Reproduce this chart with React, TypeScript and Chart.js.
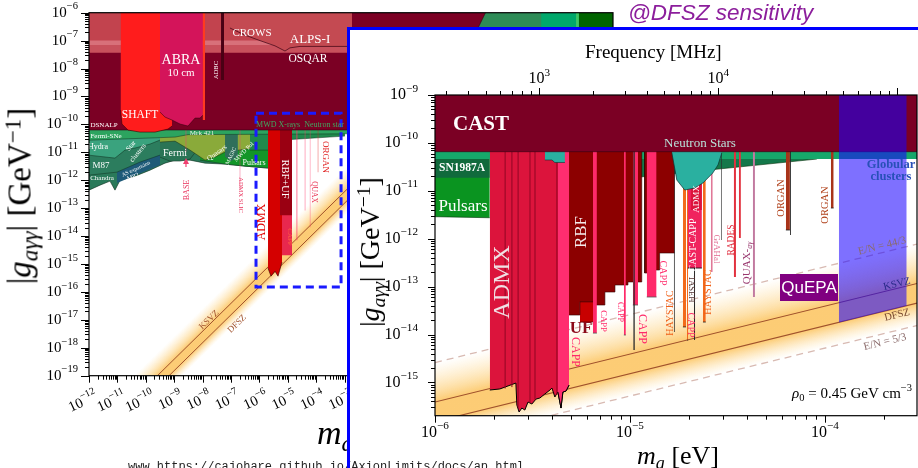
import React, { useEffect, useRef } from "react";
import { Chart, registerables } from "chart.js";
Chart.register(...registerables);

type P = [number, number];
type Bar = [number, number, number];
type Run = { t: string; sub?: boolean; sup?: boolean; it?: boolean };
type Lbl = { t: string | Run[]; x: number; y: number; s: number; c: string; r?: number; b?: boolean; it?: boolean; f?: string; a?: CanvasTextAlign };

const SERIF = '"Liberation Serif", "DejaVu Serif", serif';
const SANS = '"Liberation Sans", "DejaVu Sans", sans-serif';
const MONO = '"Liberation Mono", "DejaVu Sans Mono", monospace';

// ---------------- axes / ticks ----------------
const LEFT_X_RANGE: P = [1e-12, 2.82e6];
const LEFT_Y_RANGE: P = [1e-19, 1e-6];
const LEFT_X_DECADES = [-12, -11, -10, -9, -8, -7, -6, -5, -4, -3];
const LEFT_Y_DECADES = [-19, -18, -17, -16, -15, -14, -13, -12, -11, -10, -9, -8, -7, -6];
const INSET_X_RANGE: P = [1e-6, 2.97e-4];
const INSET_Y_RANGE: P = [2.02e-16, 1e-9];
const INSET_FREQ_RANGE: P = [261, 128800];
const INSET_X_DECADES = [-6, -5, -4];
const INSET_Y_DECADES = [-15, -14, -13, -12, -11, -10, -9];
const INSET_FREQ_DECADES = [3, 4];

// ---------------- left panel data (m [eV], g [GeV^-1]) ----------------
const LEFT_KSVZ: P[] = [[1e-12, 3.9e-22], [1e-2, 3.9e-12]];
const LEFT_DFSZ: P[] = [[1e-12, 1.52e-22], [1e-2, 1.52e-12]];
const LEFT_BAND_LO: P[] = [[1e-12, 5.2e-23], [1e-2, 5.2e-13]];
const LEFT_BAND_HI: P[] = [[1e-12, 2.6e-21], [1e-2, 2.6e-11]];
const LEFT_ASTRO_BASE: P[] = [[1e-12, 4.42e-13], [2.44e-12, 6.67e-13], [5.48e-12, 9.3e-13], [8.22e-12, 4.42e-13], [1.24e-11, 1.0e-12], [4.17e-11, 1.4e-12], [1.41e-10, 2.3e-12], [4.74e-10, 4.1e-12], [1.07e-9, 5.25e-12], [3.6e-9, 5.25e-12], [1.22e-8, 4.1e-12], [6.15e-8, 3.78e-12], [3.11e-7, 3.2e-12], [2.01e-6, 2.72e-12]];
const LEFT_AS_EXP: P[] = [[9.7e-12, 7.9e-13], [3.16e-10, 3.5e-12]];
const LEFT_M87: P[] = [[1e-12, 1.52e-12], [9.65e-12, 1.95e-12], [6.25e-11, 4.46e-12], [3.16e-10, 7.94e-12]];
const LEFT_STAR_CLUSTERS: P[] = [[1e-12, 7.9e-12], [8.22e-12, 6.2e-12], [1.85e-11, 1.2e-11], [4.17e-11, 1.42e-11], [1.41e-10, 1.97e-11], [3.16e-10, 2.74e-11]];
const LEFT_FERMI: P[] = [[3.16e-10, 6.73e-12], [7.1e-10, 4.84e-12], [1.6e-9, 4.84e-12], [3.6e-9, 5.7e-12], [6.35e-9, 1.2e-11]];
const LEFT_PULSARS: P[] = [[8.1e-9, 5.25e-12], [6.15e-8, 3.78e-12], [3.11e-7, 3.2e-12], [2.01e-6, 2.72e-12]];
const LEFT_MRK421: P[] = [[3.16e-10, 2.32e-11], [1.07e-9, 2.52e-11], [3.6e-9, 1.2e-11], [1.22e-8, 5.25e-12], [2.74e-8, 6.73e-12], [6.15e-8, 1.02e-11], [3.11e-7, 1.3e-11], [2.01e-6, 1.53e-11]];
const LEFT_MAGIC: P[] = [[6.15e-8, 7e-12], [1.0e-7, 4.8e-12], [1.75e-7, 7e-12]];
const LEFT_MWD_X: P[] = [[4.67e-7, 1.2e-11], [2.36e-6, 1.2e-11], [5.31e-6, 2.72e-11], [1.03e-3, 3.81e-11]];
const LEFT_FERMI_SNE: P[] = [[1e-12, 2.72e-11], [1.07e-9, 3.51e-11], [3.06e-9, 4.3e-11], [1.5e-3, 4.6e-11]];
const LEFT_CAPP: P[] = [[5.31e-6, 2.07e-15], [1.41e-5, 2.07e-15]];
const LEFT_ADMX: P[] = [[2.01e-6, 7.07e-16], [2.56e-6, 3.66e-16], [3.54e-6, 5.52e-16], [4.52e-6, 3.66e-16], [6.25e-6, 1.16e-15]];
const LEFT_RBF_UF: P[] = [[5.31e-6, 5.6e-14], [1.41e-5, 5.6e-14]];
const LEFT_HALO_LINES: Bar[] = [[2.0e-5, 2.2e-5, 7.1e-15], [3.9e-5, 4.2e-5, 8.3e-14], [5.9e-5, 6.3e-5, 2.08e-14]];
const LEFT_ORGAN: Bar[] = [[1.12e-4, 1.2e-4, 1.92e-12]];
const LEFT_ADMX_SLIC: Bar[] = [[2.0e-7, 2.15e-7, 4.42e-13]];
const LEFT_BASE: Bar[] = [[2.5e-9, 2.7e-9, 1.02e-11]];
const LEFT_BASE_ARROW: P[] = [[2.6e-9, 6.2e-12], [2.6e-9, 2.95e-12]];
const LEFT_TOP_GREEN1: P[] = [[31.6, 1e-9], [2.82e6, 1e-9]];
const LEFT_TOP_GREEN2: P[] = [[8.3e3, 1e-9], [1.41e5, 1e-9]];
const LEFT_TOP_GREEN3: P[] = [[1.41e5, 1e-9], [1.78e5, 1e-9]];
const LEFT_TOP_GREEN4: P[] = [[1.78e5, 1e-9], [2.82e6, 1e-9]];
const LEFT_CAST: P[] = [[1e-12, 6.3e-11], [20, 6.3e-11], [47, 2.5e-7], [102, 1.26e-6]];
const LEFT_LSW_C: P[] = [[1e-12, 3.68e-8], [1.82e-3, 3.68e-8]];
const LEFT_LSW_B: P[] = [[1e-12, 6.95e-8], [1.82e-3, 6.95e-8]];
const LEFT_LSW_A: P[] = [[1e-12, 1e-7], [1.82e-3, 1e-7]];
const LEFT_CROWS_ALPS: P[] = [[9.2e-8, 2.83e-7], [3.11e-7, 1.58e-7], [1.05e-6, 1.0e-7], [3.54e-6, 6.5e-8], [7.96e-6, 4.24e-8], [1.19e-5, 5.5e-8], [2.69e-5, 6.2e-8], [1.82e-3, 6.2e-8]];
const LEFT_SHAFT: P[] = [[1.29e-11, 3.26e-10], [1.45e-11, 1.03e-10], [2.36e-11, 6.25e-11], [6.25e-11, 5.3e-11], [2.11e-10, 5.3e-11], [6.05e-10, 6.8e-11], [8.37e-10, 8.7e-11]];
const LEFT_ABRA: P[] = [[3.16e-10, 2.76e-10], [4.74e-10, 1.83e-10], [8.37e-10, 1.43e-10], [1.6e-9, 1.03e-10], [3.06e-9, 8.7e-11], [5.4e-9, 1.68e-10], [8.1e-9, 1.68e-10], [1.03e-8, 2.15e-10]];
const LEFT_ABRA_EDGE: P[] = [[1.0e-8, 1.43e-10], [1.22e-8, 1.43e-10]];
const LEFT_ADBC: P[] = [[4.45e-8, 3.87e-9], [5.68e-8, 3.87e-9]];
const LEFT_ZOOM_BOX: P[] = [[7.6e-7, 2.5e-10], [7.5e-4, 2.5e-10], [7.5e-4, 1.5e-16], [7.6e-7, 1.5e-16], [7.6e-7, 2.5e-10]];

// ---------------- inset data ----------------
const INSET_KSVZ: P[] = [[1e-6, 3.9e-16], [3e-4, 1.17e-13]];
const INSET_DFSZ: P[] = [[1e-6, 1.52e-16], [3e-4, 4.56e-14]];
const INSET_EN_44_3: P[] = [[1e-6, 2.6e-15], [3e-4, 7.8e-13]];
const INSET_EN_5_3: P[] = [[1e-6, 5.2e-17], [3e-4, 1.56e-14]];
const INSET_PULSARS: P[] = [[1e-6, 2.88e-12], [1.91e-6, 2.74e-12]];
const INSET_SN1987A: P[] = [[1e-6, 1.88e-11], [1.91e-6, 1.88e-11]];
const INSET_NS_DARK: P[] = [[1.1e-5, 1.94e-11], [1.125e-5, 1.94e-11], [9.1e-5, 4.6e-11]];
const INSET_GREEN_STRIP: P[] = [[1e-6, 4.61e-11], [3e-4, 4.61e-11]];
const INSET_UF: P[] = [[5.54e-6, 1.82e-14], [6.61e-6, 1.82e-14]];
const INSET_ADMX: P[] = [[1.91e-6, 6.94e-16], [2.15e-6, 7.3e-16], [2.6e-6, 9.7e-16], [2.63e-6, 3.37e-16], [2.7e-6, 2.41e-16], [2.79e-6, 2.92e-16], [2.89e-6, 2.65e-16], [3.0e-6, 3.9e-16], [3.14e-6, 3.54e-16], [3.3e-6, 4.5e-16], [3.45e-6, 4.72e-16], [3.66e-6, 5.73e-16], [3.89e-6, 6.94e-16], [3.98e-6, 7.64e-16], [4.12e-6, 4.96e-16], [4.27e-6, 6.31e-16], [4.43e-6, 2.92e-16], [4.53e-6, 6.31e-16], [4.7e-6, 6.61e-16], [4.87e-6, 8.8e-16]];
const INSET_ADMX_SIDECAR: P[] = [[4.27e-6, 6.31e-16], [4.43e-6, 2.92e-16], [4.53e-6, 6.31e-16], [4.7e-6, 6.61e-16], [4.87e-6, 8.8e-16]];
const INSET_ADMX_STRIPES: P[] = [[2.29e-6, 7.5e-16], [2.48e-6, 8e-16], [2.67e-6, 3e-16], [3.07e-6, 3.8e-16], [3.26e-6, 4.4e-16], [4.22e-6, 5.5e-16]];
const INSET_RBF: P[] = [[4.87e-6, 2.55e-14], [5.54e-6, 2.55e-14], [5.54e-6, 4.8e-14], [6.61e-6, 4.8e-14], [6.61e-6, 4.13e-14], [7.44e-6, 4.13e-14], [7.44e-6, 7.71e-14], [8.38e-6, 7.71e-14], [8.38e-6, 1.08e-13], [9.77e-6, 1.08e-13], [9.77e-6, 1.25e-13], [1.15e-5, 1.25e-13], [1.15e-5, 6.6e-11], [1.19e-5, 6.6e-11], [1.19e-5, 1.92e-13], [1.27e-5, 1.92e-13], [1.27e-5, 2.22e-13], [1.42e-5, 2.22e-13], [1.42e-5, 5.03e-13], [1.7e-5, 5.03e-13]];
const INSET_CAPP: Bar[] = [[6.46e-6, 6.77e-6, 1.07e-14], [9.31e-6, 9.53e-6, 9.77e-15], [1.035e-5, 1.1e-5, 4.13e-14], [1.22e-5, 1.37e-5, 6.07e-14]];
const INSET_HAYSTAC: Bar[] = [[1.87e-5, 1.94e-5, 1.44e-14], [2.37e-5, 2.45e-5, 1.82e-14], [1.96e-5, 1.99e-5, 7.67e-15]];
const INSET_THIN_DARK: Bar[] = [[1.04e-5, 1.06e-5, 4.74e-15], [1.68e-5, 1.7e-5, 1.13e-14], [2.13e-5, 2.16e-5, 7.67e-15], [2.93e-5, 2.96e-5, 9.4e-13], [6.62e-5, 6.7e-5, 1.2e-12]];
const INSET_CAST_CAPP: Bar[] = [[1.98e-5, 2.34e-5, 2.44e-13]];
const INSET_ADMX_HIGH: Bar[] = [[2.05e-5, 2.34e-5, 3.97e-12]];
const INSET_GRAHAL: Bar[] = [[2.6e-5, 2.66e-5, 2.02e-13]];
const INSET_RADES: Bar[] = [[3.41e-5, 3.5e-5, 1.59e-13], [3.62e-5, 3.71e-5, 1.03e-12]];
const INSET_QUAX: Bar[] = [[4.27e-5, 4.38e-5, 6.07e-14]];
const INSET_ORGAN: Bar[] = [[6.31e-5, 6.62e-5, 1.52e-12], [1.074e-4, 1.11e-4, 4.37e-12]];
const INSET_NS_TEAL: P[] = [[1.64e-5, 6.3e-11], [1.74e-5, 1.68e-11], [1.91e-5, 1.04e-11], [2.15e-5, 1.14e-11], [2.37e-5, 1.46e-11], [2.66e-5, 2.35e-11], [2.83e-5, 3.46e-11], [2.96e-5, 6.15e-11]];
const INSET_NS_TEAL_SMALL: P[] = [[3.66e-6, 4.4e-11], [3.98e-6, 4.4e-11], [4.12e-6, 3.9e-11], [4.64e-6, 3.9e-11]];
const INSET_CAST: P[] = [[1e-6, 6.55e-11], [3e-4, 6.55e-11]];
const INSET_QUEPA: P[] = [[1.18e-4, 1.79e-14], [2.63e-4, 4.0e-14]];

// band glow colour stops (fraction across the band, colour)
const BAND_STOPS: [number, string][] = [
  [0, "rgba(255,222,160,0)"],
  [0.15, "rgba(254,215,140,0.28)"],
  [0.35, "rgba(253,204,112,0.62)"],
  [0.48, "rgba(252,197,98,0.88)"],
  [0.73, "rgba(252,197,98,0.88)"],
  [0.86, "rgba(253,210,130,0.45)"],
  [1, "rgba(255,228,170,0)"],
];

// ---------------- dataset helpers ----------------
const T = "rgba(0,0,0,0)";
const pts = (d: P[]) => d.map(([x, y]) => ({ x, y }));
function area(d: P[], color: string, border = T, bw = 0): any {
  return { data: pts(d), backgroundColor: color, borderColor: border, borderWidth: bw, fill: "end", pointRadius: 0, tension: 0 };
}
function bars(list: Bar[], color: string, border = T, bw = 0): any[] {
  return list.map(([a, b, g]) => area([[a, g], [b, g]], color, border, bw));
}
function line(d: P[], color: string, width: number, dash: number[] = []): any {
  return { data: pts(d), borderColor: color, borderWidth: width, borderDash: dash, fill: false, pointRadius: 0, tension: 0, backgroundColor: T };
}
function glowBand(lo: P[], hi: P[]): any[] {
  const bg = (c: any) => {
    const chart = c.chart;
    const xs = chart.scales && chart.scales.x;
    const ys = chart.scales && chart.scales.y;
    if (!chart.chartArea || !xs || !ys) return "rgba(252,200,100,0.5)";
    const p0x = xs.getPixelForValue(hi[0][0]), p0y = ys.getPixelForValue(hi[0][1]);
    const p1x = xs.getPixelForValue(hi[1][0]), p1y = ys.getPixelForValue(hi[1][1]);
    let dx = p1x - p0x, dy = p1y - p0y;
    const L = Math.hypot(dx, dy) || 1;
    dx /= L; dy /= L;
    const nx = -dy, ny = dx;
    const qx = xs.getPixelForValue(lo[0][0]), qy = ys.getPixelForValue(lo[0][1]);
    const t = (qx - p0x) * nx + (qy - p0y) * ny;
    const g = chart.ctx.createLinearGradient(p0x, p0y, p0x + nx * t, p0y + ny * t);
    BAND_STOPS.forEach(([o, col]) => g.addColorStop(o, col));
    return g;
  };
  return [line(lo, T, 0), { ...line(hi, T, 0), fill: "-1", backgroundColor: bg }];
}
function vlines(list: P[], color: string, top: number, w: number): any[] {
  return list.map(([m, g]) => line([[m, top], [m, g]], color, w));
}
const ordered = (ds: any[]) => ds.map((d, i) => ({ ...d, order: -i }));

// ---------------- text drawing ----------------
function drawRuns(ctx: CanvasRenderingContext2D, runs: Run[], x: number, y: number, size: number, color: string, rot = 0, align: CanvasTextAlign = "center", family = SERIF, bold = false, italic = false) {
  const font = (r: Run) => `${r.it || italic ? "italic " : ""}${bold ? "bold " : ""}${r.sub || r.sup ? size * 0.7 : size}px ${family}`;
  ctx.save();
  ctx.translate(x, y);
  ctx.rotate((rot * Math.PI) / 180);
  let w = 0;
  const ws = runs.map((r) => {
    ctx.font = font(r);
    const m = ctx.measureText(r.t).width;
    w += m;
    return m;
  });
  let cx = align === "center" ? -w / 2 : align === "right" ? -w : 0;
  ctx.fillStyle = color;
  ctx.textAlign = "left";
  ctx.textBaseline = "middle";
  runs.forEach((r, i) => {
    ctx.font = font(r);
    const dy = r.sup ? -size * 0.4 : r.sub ? size * 0.28 : 0;
    ctx.fillText(r.t, cx, dy);
    cx += ws[i];
  });
  ctx.restore();
}

type AxisSpec = { id: string; side: "left" | "bottom" | "top"; decades: number[]; major: number; minor: number; size: number; off: number; rot?: number; dx?: number };

function decor(spec: { ox: number; oy: number; axes: AxisSpec[]; labels: Lbl[]; extra?: (chart: any) => void }) {
  return {
    id: "decor",
    afterDatasetsDraw(chart: any) {
      const ctx = chart.ctx;
      if (spec.extra) spec.extra(chart);
      for (const l of spec.labels) {
        const runs = typeof l.t === "string" ? [{ t: l.t }] : l.t;
        drawRuns(ctx, runs, l.x - spec.ox, l.y - spec.oy, l.s, l.c, l.r || 0, l.a || "center", l.f || SERIF, !!l.b, !!l.it);
      }
    },
    afterDraw(chart: any) {
      const ctx = chart.ctx;
      const a = chart.chartArea;
      ctx.save();
      ctx.strokeStyle = "#000";
      ctx.lineWidth = 1.2;
      ctx.strokeRect(a.left, a.top, a.right - a.left, a.bottom - a.top);
      ctx.lineWidth = 1;
      for (const ax of spec.axes) {
        const sc = chart.scales[ax.id];
        const lo = Math.floor(Math.log10(sc.min) + 1e-6);
        const hi = Math.ceil(Math.log10(sc.max) - 1e-6);
        for (let e = lo; e <= hi; e++) {
          for (let k = 1; k <= 9; k++) {
            const v = k * Math.pow(10, e);
            if (v < sc.min * (1 - 1e-9) || v > sc.max * (1 + 1e-9)) continue;
            const p = Math.round(sc.getPixelForValue(v)) + 0.5;
            const L = k === 1 ? ax.major : ax.minor;
            ctx.beginPath();
            if (ax.side === "left") { ctx.moveTo(a.left, p); ctx.lineTo(a.left - L, p); }
            else if (ax.side === "bottom") { ctx.moveTo(p, a.bottom); ctx.lineTo(p, a.bottom + L); }
            else { ctx.moveTo(p, a.top); ctx.lineTo(p, a.top - L); }
            ctx.stroke();
          }
        }
        for (const e of ax.decades) {
          const p = sc.getPixelForValue(Math.pow(10, e));
          const runs: Run[] = [{ t: "10" }, { t: e < 0 ? "\u2212" + -e : String(e), sup: true }];
          if (ax.side === "left") drawRuns(ctx, runs, a.left - ax.off, p, ax.size, "#000", 0, "right");
          else if (ax.side === "bottom") {
            if (ax.rot) drawRuns(ctx, runs, p + (ax.dx || 0), a.bottom + ax.off, ax.size, "#000", ax.rot, "right");
            else drawRuns(ctx, runs, p, a.bottom + ax.off, ax.size, "#000", 0, "center");
          } else drawRuns(ctx, runs, p, a.top - ax.off, ax.size, "#000", 0, "center");
        }
      }
      ctx.restore();
    },
  };
}

// ---------------- labels ----------------
const W = "#ffffff";
const LEFT_LABELS: Lbl[] = [
  { t: "CROWS", x: 252, y: 33, s: 11, c: W },
  { t: "ALPS-I", x: 310, y: 40, s: 13, c: W },
  { t: "OSQAR", x: 308, y: 59, s: 11.5, c: W },
  { t: "ABRA", x: 181, y: 60, s: 14, c: W },
  { t: "10 cm", x: 181, y: 73, s: 11, c: W },
  { t: "ADBC", x: 216, y: 70, s: 6.5, c: W, r: -90 },
  { t: "SHAFT", x: 140, y: 115, s: 11.5, c: W },
  { t: "DSNALP", x: 104, y: 125, s: 7, c: W },
  { t: "Fermi-SNe", x: 106, y: 136.5, s: 7, c: W },
  { t: "Hydra", x: 98, y: 147, s: 8, c: W },
  { t: "Star", x: 131, y: 146, s: 7, c: W, r: -50 },
  { t: "clusters", x: 138, y: 153, s: 7, c: W, r: -50 },
  { t: "Fermi", x: 175, y: 153, s: 10, c: W },
  { t: "Mrk 421", x: 202, y: 133, s: 7, c: "#eef2e4" },
  { t: "Quasars", x: 217, y: 153, s: 7, c: W, r: -35 },
  { t: "MAGIC", x: 231, y: 156, s: 5.5, c: W, r: -65 },
  { t: "MWD Pol", x: 244, y: 152, s: 6, c: W, r: -45 },
  { t: "Pulsars", x: 254, y: 163, s: 8, c: W },
  { t: "M87", x: 101, y: 166, s: 9, c: W },
  { t: "Chandra", x: 102, y: 178, s: 7, c: W },
  { t: "AS expansion", x: 136, y: 169, s: 5.5, c: W, r: -25 },
  { t: "M82", x: 133, y: 177, s: 6.5, c: W, r: -20 },
  { t: "BASE", x: 187, y: 190, s: 8, c: "#e8305a", r: -90 },
  { t: "ADMX SLIC", x: 241, y: 195, s: 6.5, c: "#e8305a", r: 90 },
  { t: "MWD X-rays  Neutron star", x: 300, y: 124.5, s: 8, c: "#40a860" },
  { t: "ORGAN", x: 325, y: 157, s: 9, c: "#e02020", r: 90 },
  { t: "QUAX", x: 314, y: 192, s: 7.5, c: "#e83050", r: 90 },
  { t: "RBF+UF", x: 285, y: 179, s: 10.5, c: W, r: 90 },
  { t: "ADMX", x: 262, y: 222, s: 12, c: "#e00000", r: -90 },
  { t: "CAPP", x: 290, y: 237, s: 7, c: "#ff6040", r: 90 },
  { t: "KSVZ", x: 209, y: 320, s: 9, c: "#a0522d", r: -44 },
  { t: "DFSZ", x: 237, y: 324, s: 9, c: "#a0522d", r: -44 },
];

const PINK = "#ff2a6a";
const INSET_LABELS: Lbl[] = [
  { t: "CAST", x: 481, y: 125, s: 21, c: W, b: true },
  { t: "SN1987A", x: 462, y: 168, s: 11.5, c: W, b: true },
  { t: "Pulsars", x: 463, y: 207, s: 17, c: W },
  { t: "Neutron Stars", x: 700, y: 144, s: 13, c: "#b8e0d8" },
  { t: "Globular", x: 891, y: 165, s: 12.5, c: "#2850b8", b: true },
  { t: "clusters", x: 891, y: 177, s: 12.5, c: "#2850b8", b: true },
  { t: "ADMX", x: 503, y: 282, s: 24, c: "#f0e0e4", r: -90 },
  { t: "RBF", x: 582, y: 232, s: 17, c: "#f4eaea", r: -90 },
  { t: "UF", x: 581, y: 329, s: 17, c: "#8b0a1a", b: true },
  { t: "CAPP", x: 575, y: 352, s: 12, c: PINK, r: 90 },
  { t: "CAPP", x: 603, y: 321, s: 8.5, c: PINK, r: 90 },
  { t: "CAPP", x: 620, y: 312, s: 8, c: PINK, r: 90 },
  { t: "CAPP", x: 642, y: 329, s: 12, c: PINK, r: 90 },
  { t: "CAPP", x: 663, y: 273, s: 10, c: PINK, r: 90 },
  { t: "HAYSTAC", x: 670, y: 313, s: 10, c: "#f06018", r: -90 },
  { t: "TASEH", x: 691, y: 289, s: 8.5, c: "#503030", r: 90 },
  { t: "CAPP", x: 691, y: 325, s: 10, c: PINK, r: 90 },
  { t: "HAYSTAC", x: 708, y: 292, s: 10, c: "#f06018", r: -90 },
  { t: "CAST-CAPP", x: 693, y: 245, s: 10, c: W, r: -90 },
  { t: "ADMX", x: 697, y: 199, s: 9, c: W, r: -90 },
  { t: "GrAHal", x: 716, y: 249, s: 9, c: "#e06a90", r: 90 },
  { t: "RADES", x: 731, y: 240, s: 9.5, c: "#e03040", r: -90 },
  { t: [{ t: "QUAX-" }, { t: "a\u03b3", sub: true, it: true }], x: 747, y: 263, s: 11, c: "#9a3a70", r: -90 },
  { t: "ORGAN", x: 781, y: 198, s: 10.5, c: "#b0401a", r: -90 },
  { t: "ORGAN", x: 825, y: 205, s: 10.5, c: "#b0401a", r: -90 },
  { t: "E/N = 44/3", x: 882, y: 246, s: 11, c: "#8a6a70", r: -13.8 },
  { t: "KSVZ", x: 897, y: 284, s: 10.5, c: "#2a2a8a", r: -13.8 },
  { t: "DFSZ", x: 897, y: 315, s: 10.5, c: "#7a4a30", r: -13.8 },
  { t: "E/N = 5/3", x: 885, y: 342, s: 11, c: "#8a6a6a", r: -13.8 },
  { t: [{ t: "\u03c1", it: true }, { t: "0", sub: true }, { t: " = 0.45 GeV cm" }, { t: "\u22123", sup: true }], x: 912, y: 394, s: 15, c: "#000", a: "right" },
];

// ---------------- chart configs ----------------
function leftConfig(): any {
  const ds: any[] = [
    ...glowBand(LEFT_BAND_LO, LEFT_BAND_HI),
    line(LEFT_KSVZ, "#a0522d", 1),
    line(LEFT_DFSZ, "#a0522d", 1),
    area(LEFT_ASTRO_BASE, "#2a7a5a", "#103020", 0.6),
    area(LEFT_AS_EXP, "#1e5a78"),
    area(LEFT_M87, "#2c7d5e", "#103020", 0.5),
    area(LEFT_STAR_CLUSTERS, "#3aa37e", "#103020", 0.5),
    area(LEFT_FERMI, "#2a7455", "#103020", 0.5),
    area(LEFT_PULSARS, "#129628", "#103020", 0.5),
    area(LEFT_MRK421, "#8aaa3a", "#203010", 0.5),
    area(LEFT_MAGIC, "#2f6f5a"),
    area(LEFT_MWD_X, "#1f8a4c", "#103020", 0.5),
    area(LEFT_FERMI_SNE, "#2ca45f", "#103020", 0.5),
    area(LEFT_CAPP, "#e8284e"),
    area(LEFT_ADMX, "#d40000", "#300000", 0.6),
    area(LEFT_RBF_UF, "#9a0012"),
    ...bars(LEFT_HALO_LINES, "#ff3a6a"),
    ...bars(LEFT_ORGAN, "#e02020"),
    ...bars(LEFT_ADMX_SLIC, "#f04070"),
    ...bars(LEFT_BASE, "#f04070"),
    area(LEFT_TOP_GREEN1, "#2e8b57"),
    area(LEFT_TOP_GREEN2, "#00a86b", "#000", 0.8),
    area(LEFT_TOP_GREEN3, "#3cc864"),
    area(LEFT_TOP_GREEN4, "#006400"),
    area(LEFT_CAST, "#7b0024", "#300010", 0.6),
    area(LEFT_LSW_C, "#c8505c"),
    area(LEFT_LSW_B, "#d8707a"),
    area(LEFT_LSW_A, "#c2434e"),
    area(LEFT_CROWS_ALPS, "#c44a52", "#3a0010", 0.7),
    area(LEFT_SHAFT, "#ff1c1c", "#400000", 0.6),
    area(LEFT_ABRA, "#d4145a", "#400010", 0.6),
    area(LEFT_ABRA_EDGE, "#ff3b1f"),
    area(LEFT_ADBC, "#4a0014"),
    line(LEFT_ZOOM_BOX, "#1a1aff", 3, [8, 5]),
  ];
  return {
    type: "line",
    data: { datasets: ordered(ds) },
    options: {
      animation: false,
      responsive: false,
      maintainAspectRatio: false,
      devicePixelRatio: 1,
      events: [],
      layout: { padding: { left: 0, top: 12.7, right: 27, bottom: 0 } },
      plugins: { legend: { display: false }, tooltip: { enabled: false }, title: { display: false } },
      scales: {
        x: { type: "logarithmic", min: LEFT_X_RANGE[0], max: LEFT_X_RANGE[1], ticks: { display: false }, grid: { display: false }, border: { display: false }, afterFit: (s: any) => { s.height = 92.3; } },
        y: { type: "logarithmic", min: LEFT_Y_RANGE[0], max: LEFT_Y_RANGE[1], ticks: { display: false }, grid: { display: false }, border: { display: false }, afterFit: (s: any) => { s.width = 89; } },
      },
    },
    plugins: [
      decor({
        ox: 0,
        oy: 0,
        labels: LEFT_LABELS,
        axes: [
          { id: "y", side: "left", decades: LEFT_Y_DECADES, major: 8, minor: 4, size: 15, off: 11 },
          { id: "x", side: "bottom", decades: LEFT_X_DECADES, major: 7, minor: 4, size: 14.5, off: 20, rot: -25, dx: 8 },
        ],
        extra: (chart: any) => {
          const ctx = chart.ctx;
          const xs = chart.scales.x, ys = chart.scales.y;
          const [tip, tail] = LEFT_BASE_ARROW;
          const x = xs.getPixelForValue(tip[0]);
          const y1 = ys.getPixelForValue(tip[1]);
          const y2 = ys.getPixelForValue(tail[1]);
          ctx.save();
          ctx.strokeStyle = "#f04070";
          ctx.fillStyle = "#f04070";
          ctx.lineWidth = 1.2;
          ctx.beginPath(); ctx.moveTo(x, y2); ctx.lineTo(x, y1 + 3); ctx.stroke();
          ctx.beginPath(); ctx.moveTo(x, y1); ctx.lineTo(x - 3, y1 + 6); ctx.lineTo(x + 3, y1 + 6); ctx.closePath(); ctx.fill();
          ctx.restore();
        },
      }),
    ],
  };
}

function insetConfig(): any {
  const ds: any[] = [
    ...glowBand(INSET_EN_5_3, INSET_EN_44_3),
    line(INSET_EN_44_3, "#d8bab2", 1.3, [7, 5]),
    line(INSET_EN_5_3, "#d8bab2", 1.3, [7, 5]),
    line(INSET_KSVZ, "#a0522d", 1.1),
    line(INSET_DFSZ, "#a0522d", 1.1),
    area(INSET_PULSARS, "#0a9420", "#05300a", 0.6),
    area(INSET_SN1987A, "#106a3c"),
    area(INSET_NS_DARK, "#14784a", "#05300a", 0.6),
    area(INSET_GREEN_STRIP, "#17a86b"),
    area(INSET_UF, "#c80000", "#300000", 0.6),
    area(INSET_ADMX, "#dc143c", "#000", 1),
    area(INSET_ADMX_SIDECAR, "#ff2d6f", "#000", 1),
    ...vlines(INSET_ADMX_STRIPES, "rgba(150,10,40,0.55)", 6.55e-11, 0.8),
    area(INSET_RBF, "#8c0000", "#300000", 0.6),
    ...bars(INSET_CAPP, PINK, "#555", 0.8),
    ...bars(INSET_HAYSTAC, "#f26a1b", "#222", 0.8),
    ...bars(INSET_THIN_DARK, "#2a2a2a"),
    ...bars(INSET_CAST_CAPP, "#f0245e", "#000", 0.8),
    ...bars(INSET_ADMX_HIGH, "#dc143c"),
    ...bars(INSET_GRAHAL, "#e07898"),
    ...bars(INSET_RADES, "#e2323f"),
    ...bars(INSET_QUAX, "#c27aa0"),
    ...bars(INSET_ORGAN, "#a8341a", "#222", 0.8),
    area(INSET_NS_TEAL, "#2ab0a0", "#0a3030", 0.7),
    area(INSET_NS_TEAL_SMALL, "#2ab0a0", "#0a3030", 0.6),
    area(INSET_CAST, "#7b0024", "#300010", 0.6),
    area(INSET_QUEPA, "rgba(25,0,255,0.56)"),
  ];
  return {
    type: "line",
    data: { datasets: ordered(ds) },
    options: {
      animation: false,
      responsive: false,
      maintainAspectRatio: false,
      devicePixelRatio: 1,
      events: [],
      layout: { padding: { left: 0, top: 0, right: 1, bottom: 0 } },
      plugins: { legend: { display: false }, tooltip: { enabled: false }, title: { display: false } },
      scales: {
        x: { type: "logarithmic", position: "bottom", min: INSET_X_RANGE[0], max: INSET_X_RANGE[1], ticks: { display: false }, grid: { display: false }, border: { display: false }, afterFit: (s: any) => { s.height = 52.3; } },
        x2: { type: "logarithmic", axis: "x", position: "top", min: INSET_FREQ_RANGE[0], max: INSET_FREQ_RANGE[1], ticks: { display: false }, grid: { display: false }, border: { display: false }, afterFit: (s: any) => { s.height = 64; } },
        y: { type: "logarithmic", min: INSET_Y_RANGE[0], max: INSET_Y_RANGE[1], ticks: { display: false }, grid: { display: false }, border: { display: false }, afterFit: (s: any) => { s.width = 84; } },
      },
    },
    plugins: [
      decor({
        ox: 351,
        oy: 31,
        labels: INSET_LABELS,
        axes: [
          { id: "y", side: "left", decades: INSET_Y_DECADES, major: 7, minor: 4, size: 16, off: 17 },
          { id: "x", side: "bottom", decades: INSET_X_DECADES, major: 7, minor: 4, size: 16, off: 17 },
          { id: "x2", side: "top", decades: INSET_FREQ_DECADES, major: 7, minor: 4, size: 16, off: 16 },
        ],
        extra: (chart: any) => {
          const ctx = chart.ctx;
          ctx.save();
          ctx.fillStyle = "#800080";
          ctx.fillRect(780 - 351, 274 - 31, 58, 27);
          ctx.restore();
          drawRuns(chart.ctx, [{ t: "QuEPA" }], 809 - 351, 288 - 31, 17, "#ffffff", 0, "center", SANS);
        },
      }),
    ],
  };
}

// ---------------- HTML pieces ----------------
const Sub = ({ c, it }: { c: string; it?: boolean }) => (
  <span style={{ fontSize: "0.7em", position: "relative", top: "0.3em", fontStyle: it ? "italic" : "normal" }}>{c}</span>
);
const Sup = ({ c }: { c: string }) => (
  <span style={{ fontSize: "0.7em", position: "relative", top: "-0.45em" }}>{c}</span>
);
const GTitle = () => (
  <span>
    |<i>g</i>
    <Sub c={"a\u03b3\u03b3"} it />| [GeV<Sup c={"\u22121"} />]
  </span>
);
const MTitle = () => (
  <span>
    <i>m</i>
    <Sub c="a" it /> [eV]
  </span>
);

function Rot({ cx, cy, size, children }: any) {
  return (
    <div style={{ position: "absolute", left: cx, top: cy, transform: "translate(-50%,-50%) rotate(-90deg)", whiteSpace: "nowrap", fontFamily: SERIF, fontSize: size, lineHeight: 1, color: "#000" }}>
      {children}
    </div>
  );
}

export default function App() {
  const leftRef = useRef<HTMLCanvasElement>(null);
  const insetRef = useRef<HTMLCanvasElement>(null);
  useEffect(() => {
    const c1 = new Chart(leftRef.current as HTMLCanvasElement, leftConfig());
    const c2 = new Chart(insetRef.current as HTMLCanvasElement, insetConfig());
    return () => {
      c1.destroy();
      c2.destroy();
    };
  }, []);
  return (
    <div style={{ position: "fixed", left: 0, top: 0, width: 918, height: 468, overflow: "hidden", background: "#fff" }}>
      <canvas ref={leftRef} width={640} height={468} style={{ position: "absolute", left: 0, top: 0, width: 640, height: 468, zIndex: 0 }} />
      <Rot cx={20} cy={196} size={33}>
        <GTitle />
      </Rot>
      <div style={{ position: "absolute", left: 317, top: 416, fontFamily: SERIF, fontSize: 34, lineHeight: 1, whiteSpace: "nowrap", zIndex: 1 }}>
        <MTitle />
      </div>
      <div style={{ position: "absolute", left: 350, top: 30, width: 568, height: 438, background: "#fff", zIndex: 2 }}>
        <canvas ref={insetRef} width={567} height={437} style={{ position: "absolute", left: 1, top: 1, width: 567, height: 437 }} />
        <div style={{ position: "absolute", left: 300 - 65, top: 12, width: 130, textAlign: "center", fontFamily: SERIF, fontSize: 19, lineHeight: 1, whiteSpace: "nowrap" }}>Frequency [MHz]</div>
        <div style={{ position: "absolute", left: 287, top: 413, fontFamily: SERIF, fontSize: 26, lineHeight: 1, whiteSpace: "nowrap" }}>
          <MTitle />
        </div>
        <Rot cx={20} cy={222} size={28}>
          <GTitle />
        </Rot>
      </div>
      <div style={{ position: "absolute", left: 128, top: 461, fontFamily: MONO, fontSize: 12, lineHeight: 1, color: "#222", whiteSpace: "nowrap", zIndex: 3 }}>
        www https://cajohare.github.io/AxionLimits/docs/ap.html
      </div>
      <div style={{ position: "absolute", left: 628, top: 0, fontFamily: SANS, fontStyle: "italic", fontSize: 22.5, lineHeight: "26px", color: "#8c1e9c", whiteSpace: "nowrap", zIndex: 3 }}>
        @DFSZ sensitivity
      </div>
      <div style={{ position: "absolute", left: 347, top: 27, width: 571, height: 3, background: "#0000ff", zIndex: 4 }} />
      <div style={{ position: "absolute", left: 347, top: 27, width: 3, height: 441, background: "#0000ff", zIndex: 4 }} />
    </div>
  );
}
